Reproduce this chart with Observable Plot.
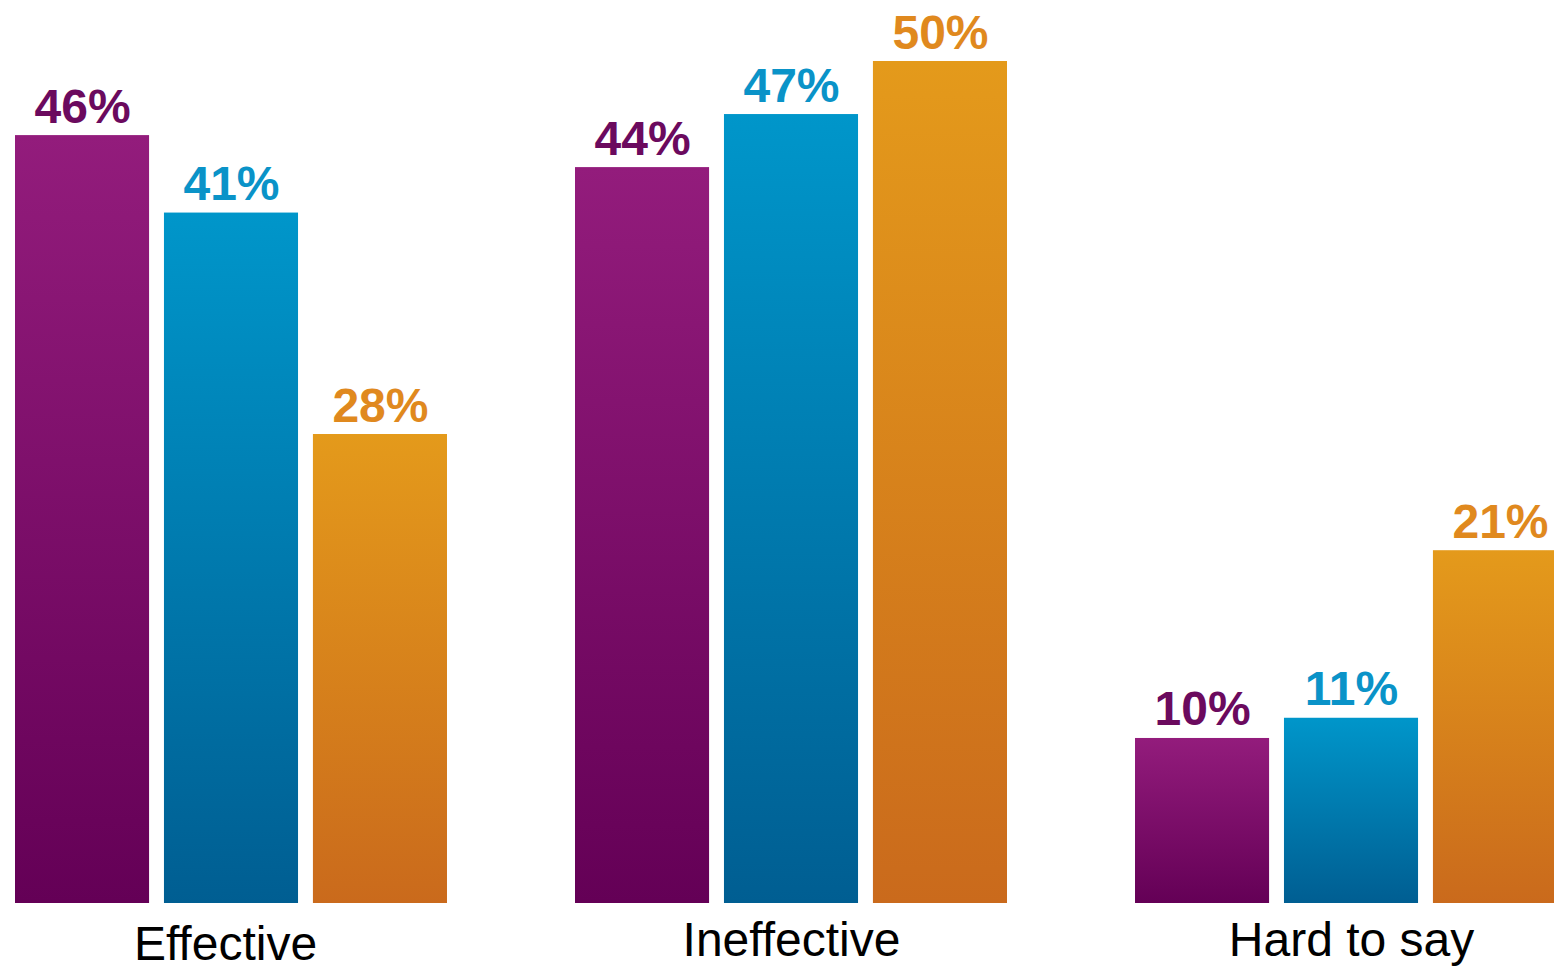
<!DOCTYPE html>
<html>
<head>
<meta charset="utf-8">
<script src="https://cdn.jsdelivr.net/npm/d3@7"></script>
<script src="https://cdn.jsdelivr.net/npm/@observablehq/plot@0.6"></script>
<style>
  html, body { margin: 0; padding: 0; background: #fff; }
  #wrap { width: 1554px; height: 970px; overflow: hidden; }
  #wrap svg { max-width: none !important; }
</style>
</head>
<body>
<div id="wrap"></div>
<script>
const categories = ["Effective", "Ineffective", "Hard to say"];
const seriesNames = ["Series 1", "Series 2", "Series 3"];
// bar heights (percent)
const series1 = [45.6, 43.7, 9.8];
const series2 = [41.0, 46.85, 11.0];
const series3 = [27.85, 50.0, 20.95];
// printed labels
const labels1 = ["46%", "44%", "10%"];
const labels2 = ["41%", "47%", "11%"];
const labels3 = ["28%", "50%", "21%"];

const barGradients = [
  ["#931C7C", "#640056"],
  ["#0096CA", "#005E92"],
  ["#E49A1B", "#CA6A1C"]
];
const labelColors = ["#6B0A5E", "#0A93C8", "#E0891E"];

const seriesValues = [series1, series2, series3];
const seriesLabels = [labels1, labels2, labels3];
const data = [];
categories.forEach((c, i) => {
  seriesNames.forEach((s, j) => {
    data.push({category: c, series: s, value: seriesValues[j][i], label: seriesLabels[j][i], idx: j});
  });
});

const chart = Plot.plot({
  width: 1567,
  height: 970,
  marginLeft: 15,
  marginRight: 0,
  marginTop: 0,
  marginBottom: 67,
  style: {fontFamily: "'Liberation Sans', Arial, sans-serif", background: "white", overflow: "hidden", maxWidth: "none"},
  fx: {domain: categories, paddingInner: 0.2286, paddingOuter: 0, round: false, label: null},
  x: {domain: seriesNames, paddingInner: 0.1, paddingOuter: 0, round: false, axis: null},
  y: {domain: [0, 50], range: [903, 61], axis: null},
  color: {domain: seriesNames, range: seriesNames.map((s, j) => `url(#grad${j})`)},
  marks: [
    Plot.barY(data, {fx: "category", x: "series", y: "value", fill: "series"}),
    Plot.text(data, {
      fx: "category", x: "series", y: "value",
      text: "label",
      fill: d => labelColors[d.idx],
      lineAnchor: "bottom", dy: -13,
      fontSize: 48, fontWeight: "bold"
    }),
    Plot.axisFx({anchor: "bottom", ticks: ["Ineffective", "Hard to say"], tickSize: 0, tickPadding: 18, fontSize: 48, fill: "#000", label: null}),
    Plot.axisFx({anchor: "bottom", ticks: ["Effective"], tickSize: 0, tickPadding: 22, dx: -6, fontSize: 48, fill: "#000", label: null})
  ]
});

const defs = d3.select(chart).insert("defs", ":first-child");
barGradients.forEach((g, j) => {
  const lg = defs.append("linearGradient")
    .attr("id", `grad${j}`).attr("x1", 0).attr("y1", 0).attr("x2", 0).attr("y2", 1);
  lg.append("stop").attr("offset", "0%").attr("stop-color", g[0]);
  lg.append("stop").attr("offset", "100%").attr("stop-color", g[1]);
});

document.getElementById("wrap").appendChild(chart);
</script>
</body>
</html>
